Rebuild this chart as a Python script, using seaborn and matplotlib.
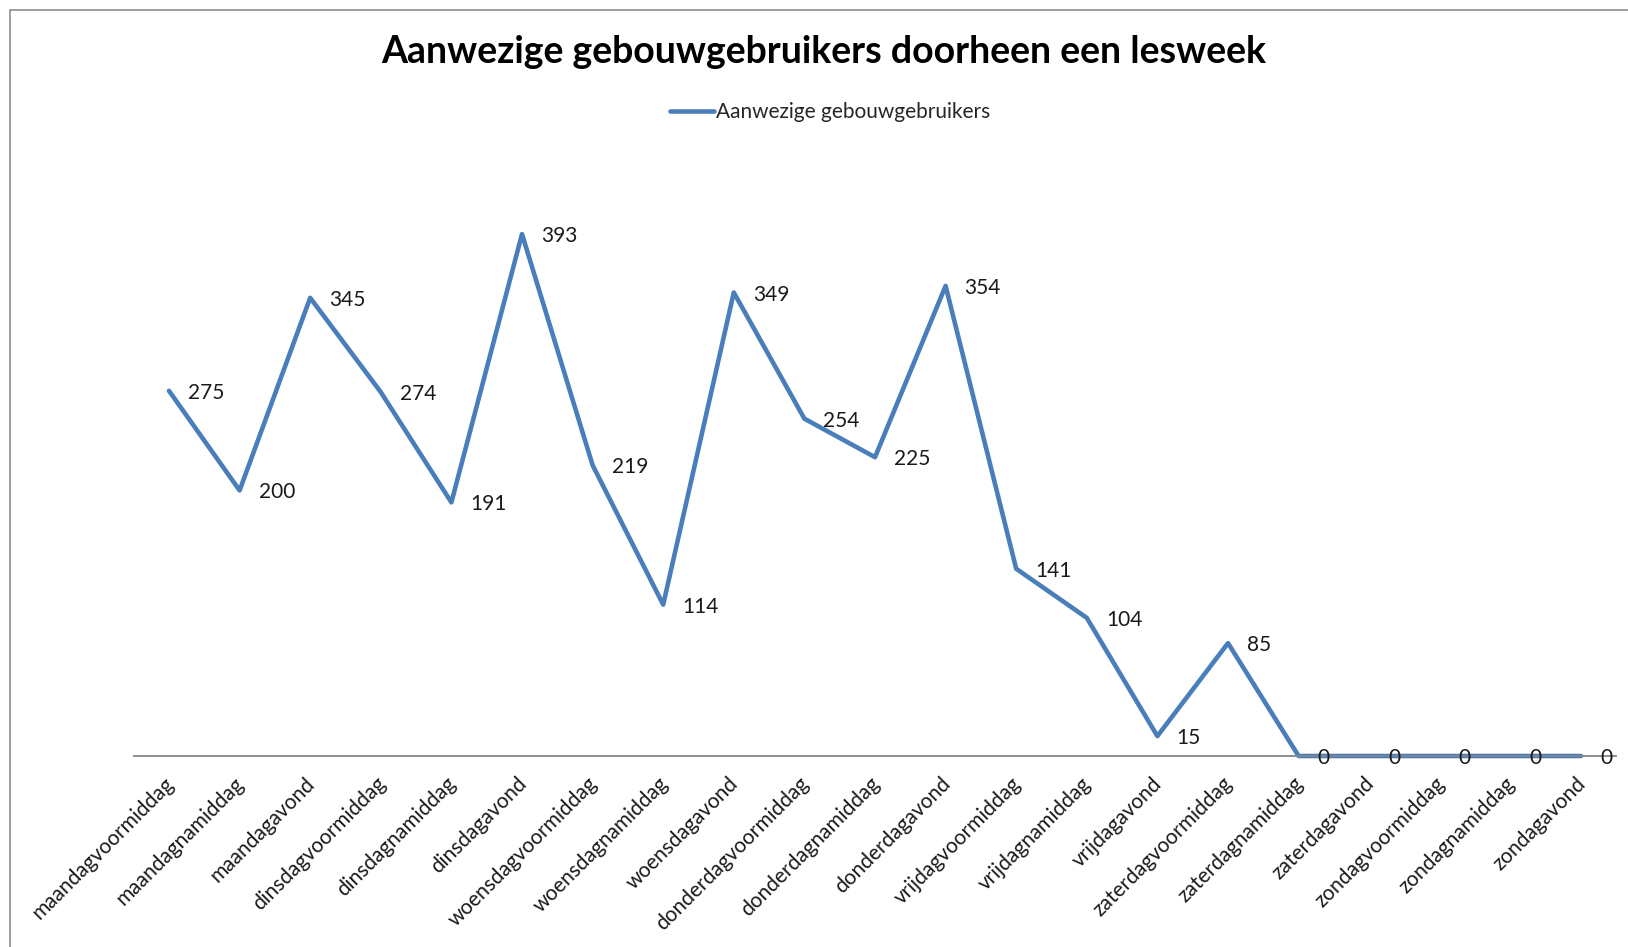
import numpy as np
import pandas as pd
import matplotlib
matplotlib.use("Agg")
import matplotlib.pyplot as plt
import matplotlib.transforms as mtransforms
from matplotlib.patches import Rectangle
from matplotlib.lines import Line2D
import seaborn as sns

categories = [
    "maandagvoormiddag", "maandagnamiddag", "maandagavond",
    "dinsdagvoormiddag", "dinsdagnamiddag", "dinsdagavond",
    "woensdagvoormiddag", "woensdagnamiddag", "woensdagavond",
    "donderdagvoormiddag", "donderdagnamiddag", "donderdagavond",
    "vrijdagvoormiddag", "vrijdagnamiddag", "vrijdagavond",
    "zaterdagvoormiddag", "zaterdagnamiddag", "zaterdagavond",
    "zondagvoormiddag", "zondagnamiddag", "zondagavond",
]
values = [275, 200, 345, 274, 191, 393, 219, 114, 349, 254, 225, 354,
          141, 104, 15, 85, 0, 0, 0, 0, 0]
series_name = "Aanwezige gebouwgebruikers"
title = "Aanwezige gebouwgebruikers doorheen een lesweek"

sns.set_theme(style="white")
plt.rcParams["font.family"] = ["Lato", "DejaVu Sans"]

W, H = 1628, 947
fig = plt.figure(figsize=(W / 100, H / 100), dpi=100)
fig.patch.set_facecolor("white")

# border of the chart area (top-left visible, rest cut off)
fig.patches.append(Rectangle((10 / W, -0.1), 1.2, 1 - 10 / H + 0.1,
                             transform=fig.transFigure, fill=False,
                             edgecolor="#8c8c8c", linewidth=1.2))

n = len(values)
df = pd.DataFrame({"pos": np.arange(n), "label": categories[:n], "value": values})

# axes geometry
x_first = 169
spacing = 70.6
left_px = x_first - 0.5 * spacing
right_px = left_px + n * spacing
y0_px = 756
unit = 1.328
ymax = 450
ax = fig.add_axes([left_px / W, 1 - y0_px / H, (right_px - left_px) / W,
                   ymax * unit / H])

color = "#4a7ebb"
sns.lineplot(data=df, x="pos", y="value", ax=ax, color=color, linewidth=3.3,
             sort=False, legend=False)

ax.set_xlim(-0.5, n - 0.5)
ax.set_ylim(0, ymax)
for s in ["top", "right", "left"]:
    ax.spines[s].set_visible(False)
ax.spines["bottom"].set_color("#868686")
ax.spines["bottom"].set_linewidth(1.3)
ax.set_yticks([])
ax.set_xlabel("")
ax.set_ylabel("")
ax.set_xticks(df["pos"])
ax.set_xticklabels(df["label"], rotation=45, ha="right", va="top",
                   rotation_mode="anchor", fontsize=15, color="#1a1a1a")
ax.tick_params(axis="x", length=0, pad=12.5)
offset = mtransforms.ScaledTranslation(-4 / 72, 0, fig.dpi_scale_trans)
for lbl in ax.get_xticklabels():
    lbl.set_transform(lbl.get_transform() + offset)
for line in ax.lines:
    line.set_clip_on(False)

for p, v in zip(df["pos"], df["value"]):
    ax.annotate(str(v), (p, v), xytext=(19, -2), textcoords="offset pixels",
                ha="left", va="center", fontsize=15, color="#1a1a1a",
                annotation_clip=False)

fig.text(0.506, 1 - 52 / H, title, ha="center", va="center",
         fontsize=27, fontweight="bold", color="black")

handle = Line2D([], [], color=color, linewidth=3.3)
fig.legend([handle], [series_name], loc="center",
           bbox_to_anchor=(830 / W, 1 - 112 / H), frameon=False,
           fontsize=15, handlelength=2.1, handletextpad=0.08)

fig.savefig("out.png", dpi=100)
